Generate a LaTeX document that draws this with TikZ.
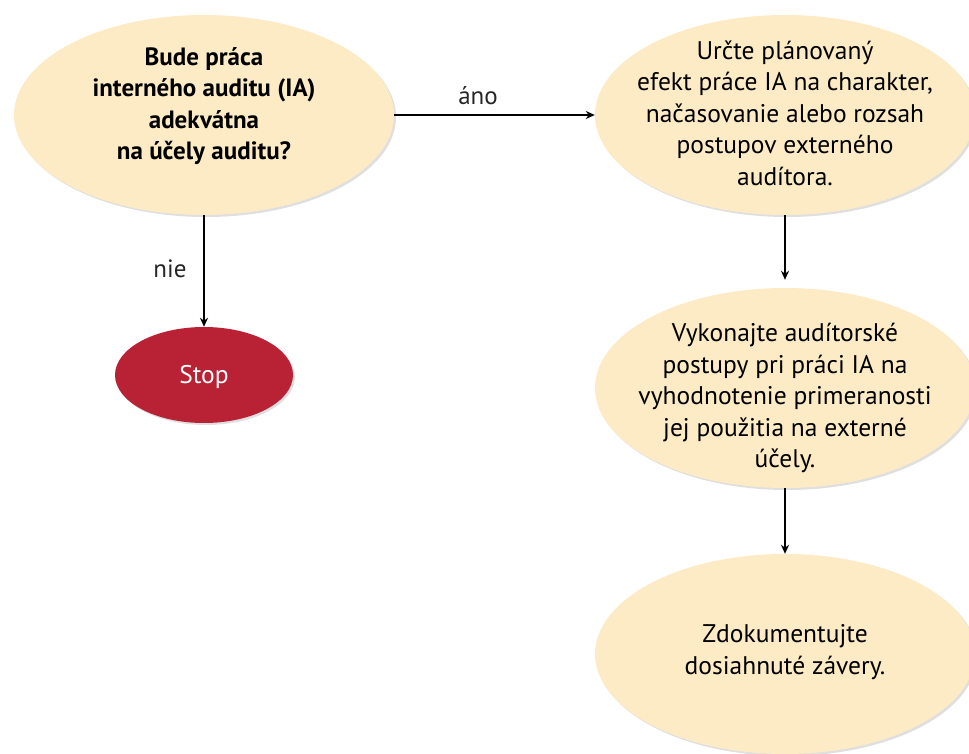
\documentclass[tikz,border=0pt]{standalone}
\usepackage{fontspec}
\setmainfont{PT Sans}
\usetikzlibrary{shapes.geometric,shadows,arrows.meta}
\definecolor{bubble}{HTML}{FCEBC4}
\definecolor{stopred}{HTML}{B82234}
\tikzset{
  bubble/.style={ellipse, fill=bubble, inner sep=0pt,
    minimum width=380pt, minimum height=200pt,
    drop shadow={opacity=0.25, shadow xshift=2pt, shadow yshift=-2pt}},
  stopnode/.style={ellipse, fill=stopred, inner sep=0pt,
    minimum width=178pt, minimum height=96pt,
    drop shadow={opacity=0.25, shadow xshift=2pt, shadow yshift=-2pt}},
  btext/.style={align=center, font=\fontsize{25.5}{31.5}\selectfont, text=black},
  flow/.style={line width=1.8pt, -{Stealth[length=9pt,width=8pt]}},
  lbl/.style={font=\fontsize{25}{28}\selectfont, text=black!85}
}
\begin{document}
\begin{tikzpicture}[x=1pt,y=-1pt]
  \useasboundingbox (0,0) rectangle (969,754);
  \clip (0,0) rectangle (969,754);

  % decision bubble and the stop state
  \node[bubble] (q) at (204,115) {};
  \node[btext, font=\fontsize{25}{31.5}\selectfont\bfseries] (qt) at (204,106)
    {Bude práca\\interného auditu (IA)\\adekvátna\\na účely auditu?};
  \node[stopnode] (stop) at (204,375) {};
  \node[btext, text=white] (stopt) at (204,377) {Stop};

  % right-hand column of steps
  \node[bubble] (plan) at (785,115) {};
  \node[btext] (plant) at (785,113)
    {Určte plánovaný\\efekt práce IA na charakter,\\načasovanie alebo rozsah\\postupov externého\\audítora.};
  \node[bubble] (perf) at (785,388) {};
  \node[btext] (perft) at (785,398)
    {Vykonajte audítorské\\postupy pri práci IA na\\vyhodnotenie primeranosti\\jej použitia na externé\\účely.};
  \node[bubble] (doc) at (785,654) {};
  \node[btext] (doct) at (785,652)
    {Zdokumentujte\\dosiahnuté závery.};

  % connectors
  \draw[flow] (q.east) -- (plan.west);
  \node[lbl] (yes) at (478,96) {áno};
  \draw[flow] (q.south) -- (stop.north);
  \node[lbl] (no) at (170,269) {nie};
  \draw[flow, shorten >=8pt] (plan.south) -- (perf.north);
  \draw[flow] (perf.south) -- (doc.north);
\end{tikzpicture}
\end{document}
